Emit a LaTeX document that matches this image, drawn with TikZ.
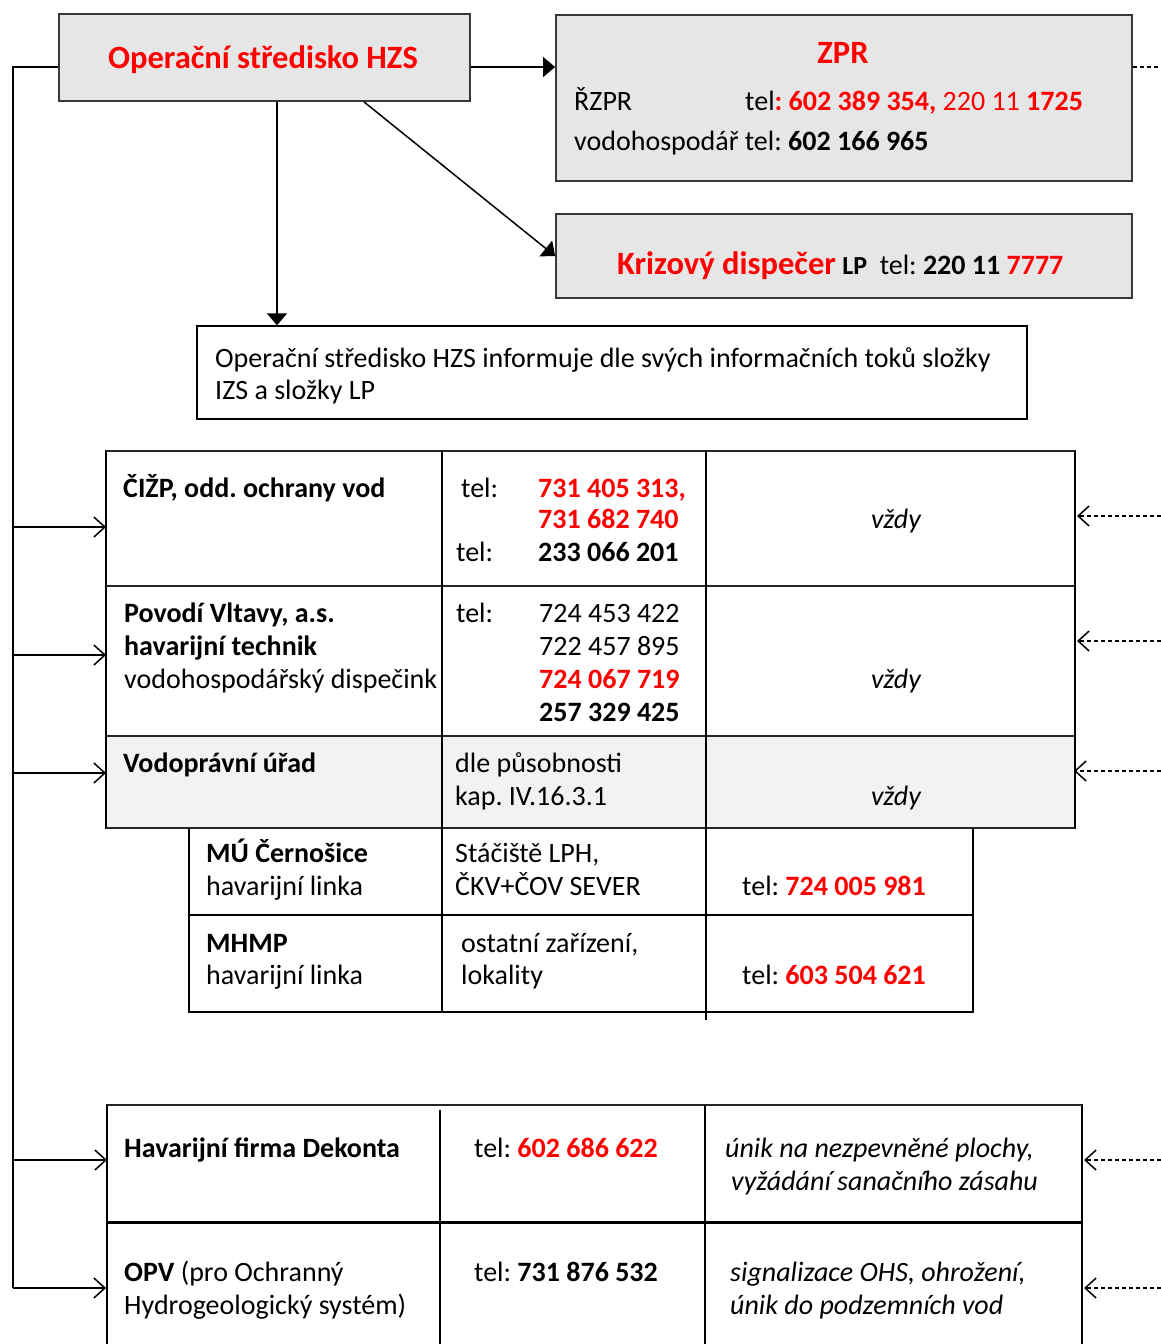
\documentclass[tikz,border=0pt]{standalone}
\usepackage{fontspec}
\setmainfont{Carlito}
\usetikzlibrary{arrows.meta}
\definecolor{wred}{RGB}{255,0,0}
\definecolor{boxgray}{RGB}{230,230,230}
\definecolor{rowgray}{RGB}{242,242,242}
\newcommand\redb[1]{\textcolor{wred}{\textbf{#1}}}
\newcommand\bigred[1]{{\bfseries\fontsize{32.5}{38}\selectfont\color{wred}#1}}
\begin{document}
\frenchspacing
\begin{tikzpicture}[x=1pt,y=-1pt,
  bx/.style={draw=black!78, line width=1.8pt, fill=boxgray, inner sep=0pt},
  ln/.style={draw=black, line width=1.4pt},
  thk/.style={draw=black!85, line width=2pt},
  arr/.style={line width=1.5pt, -{Triangle[length=12pt,width=20pt]}},
  side/.style={line width=1.4pt, -{Straight Barb[length=11pt,width=20pt,line width=1.5pt]}},
  back/.style={line width=1.3pt, dash pattern=on 4pt off 3pt, -{Straight Barb[length=11pt,width=20pt,line width=1.5pt]}},
  tx/.style={anchor=base west, inner sep=0pt, font=\fontsize{28}{33}\selectfont},
  tc/.style={anchor=base, inner sep=0pt, font=\fontsize{28}{33}\selectfont},
]
\useasboundingbox (0,0) rectangle (1161,1344);

% ---------- top boxes ----------
\node[bx, minimum width=411pt, minimum height=87pt] (hzs) at (264.5,57.5) {};
\node[bx, minimum width=576pt, minimum height=166pt] (zpr) at (844,98) {};
\node[bx, minimum width=576pt, minimum height=84pt] (kd) at (844,256) {};
\node[draw=black, line width=1.4pt, minimum width=830pt, minimum height=93pt, inner sep=0pt] (ib) at (612,372.5) {};

\node[tc, font=\bfseries\fontsize{32.5}{38}\selectfont, text=wred] (hzsT) at (263,68) {Operační středisko HZS};
\node[tc, font=\bfseries\fontsize{32.5}{38}\selectfont, text=wred] (zprT) at (843,63) {ZPR};
\node[tx] (rzpr) at (574,110) {ŘZPR};
\node[tx] (rzprtel) at (745,110) {tel\redb{: 602 389 354,} \textcolor{wred}{220 11} \redb{1725}};
\node[tx] (vh) at (574,150) {vodohospodář tel: \textbf{602 166 965}};
\node[tx] (kdT) at (617,274) {\bigred{Krizový dispečer} {\bfseries\fontsize{26}{30}\selectfont LP}\ \ tel: \textbf{220 11} \redb{7777}};

\node[tx] (ib1) at (215,367) {Operační středisko HZS informuje dle svých informačních toků složky};
\node[tx] (ib2) at (215,399) {IZS a složky LP};

% ---------- connectors from HZS ----------
\coordinate (y67) at (0,67);
\draw[arr] (hzs.east |- y67) -- (zpr.west |- y67);
\draw[arr] ([xshift=99.5pt]hzs.south) -- (kd.west);
\coordinate (vdown) at ([xshift=12.5pt]hzs.south);
\draw[arr] (vdown) -- (vdown |- ib.north);
\coordinate (zprR) at (1161,67);
\draw[line width=1.3pt, dash pattern=on 4pt off 3pt] (zpr.east |- y67) -- (zprR);

% ---------- table 1 ----------
\fill[rowgray] (106,736) rectangle (1075,828);
\draw[ln] (106,451) rectangle (1075,828);
\draw[thk] (106,451) -- (1075,451);
\draw[thk] (106,586) -- (1075,586);
\draw[thk] (106,736) -- (1075,736);
\draw[thk] (106,828) -- (1075,828);
\draw[ln] (442,451) -- (442,828);
\draw[ln] (706,451) -- (706,828);
% sub-table
\draw[ln] (189,828) -- (189,1012) -- (973,1012) -- (973,828);
\draw[ln] (189,915) -- (973,915);
\draw[ln] (442,828) -- (442,1012);
\draw[ln] (706,828) -- (706,1020);
% bottom table
\draw[ln] (107,1350) -- (107,1105) -- (1082,1105) -- (1082,1350);
\draw[thk] (107,1105) -- (1082,1105);
\draw[line width=3pt] (107,1222) -- (1082,1222);
\draw[ln] (440,1110) -- (440,1350);
\draw[ln] (705,1105) -- (705,1350);

% ---------- left trunk and branch arrows ----------
\coordinate (trk) at (13,67);
\coordinate (r1) at (106,527);
\coordinate (r2) at (106,655);
\coordinate (r3) at (106,773);
\coordinate (r4) at (107,1160);
\coordinate (r5) at (106,1288);
\draw[ln] (hzs.west |- trk) -- (trk) -- (trk |- r5);
\foreach \r in {r1,r2,r3,r4,r5} \draw[side] (trk |- \r) -- (\r);

% ---------- dashed arrows from the right ----------
\coordinate (d1) at (1077,516);
\coordinate (d2) at (1077,641);
\coordinate (d3) at (1074,771);
\coordinate (d4) at (1084,1160);
\coordinate (d5) at (1084,1288);
\coordinate (edge) at (1161,0);
\foreach \d in {d1,d2,d3,d4,d5} \draw[back] (edge |- \d) -- (\d);

% ---------- table 1 texts ----------
\node[tx] (c1a) at (123,497) {\textbf{ČIŽP, odd. ochrany vod}};
\node[tx] (c1b) at (461,497) {tel:};
\node[tx] (c1c) at (538,497) {\redb{731 405 313,}};
\node[tx] (c1d) at (538,528) {\redb{731 682 740}};
\node[tx] (c1e) at (456,561) {tel:};
\node[tx] (c1f) at (538,561) {\textbf{233 066 201}};
\node[tc] (c1g) at (896,528) {\itshape vždy};

\node[tx] (c2a) at (124,622) {\textbf{Povodí Vltavy, a.s.}};
\node[tx] (c2b) at (124,655) {\textbf{havarijní technik}};
\node[tx] (c2c) at (124,688) {vodohospodářský dispečink};
\node[tx] (c2d) at (456,622) {tel:};
\node[tx] (c2e) at (539,622) {724 453 422};
\node[tx] (c2f) at (539,655) {722 457 895};
\node[tx] (c2g) at (539,688) {\redb{724 067 719}};
\node[tx] (c2h) at (539,721) {\textbf{257 329 425}};
\node[tc] (c2i) at (896,688) {\itshape vždy};

\node[tx] (c3a) at (123,772) {\textbf{Vodoprávní úřad}};
\node[tx] (c3b) at (455,772) {dle působnosti};
\node[tx] (c3c) at (455,805) {kap. IV.16.3.1};
\node[tc] (c3d) at (896,805) {\itshape vždy};

\node[tx] (s1a) at (206,862) {\textbf{MÚ Černošice}};
\node[tx] (s1b) at (206,895) {havarijní linka};
\node[tx] (s1c) at (455,862) {Stáčiště LPH,};
\node[tx] (s1d) at (455,895) {ČKV+ČOV SEVER};
\node[tx] (s1e) at (742,895) {tel: \redb{724 005 981}};

\node[tx] (s2a) at (206,952) {\textbf{MHMP}};
\node[tx] (s2b) at (206,984) {havarijní linka};
\node[tx] (s2c) at (461,952) {ostatní zařízení,};
\node[tx] (s2d) at (461,984) {lokality};
\node[tx] (s2e) at (742,984) {tel: \redb{603 504 621}};

% ---------- bottom table texts ----------
\node[tx] (b1a) at (124,1157) {\textbf{Havarijní firma Dekonta}};
\node[tx] (b1b) at (474,1157) {tel: \redb{602 686 622}};
\node[tx] (b1c) at (725,1157) {\itshape únik na nezpevněné plochy,};
\node[tx] (b1d) at (731,1190) {\itshape vyžádání sanačního zásahu};

\node[tx] (b2a) at (124,1281) {\textbf{OPV} (pro Ochranný};
\node[tx] (b2b) at (124,1314) {Hydrogeologický systém)};
\node[tx] (b2c) at (474,1281) {tel: \textbf{731 876 532}};
\node[tx] (b2d) at (730,1281) {\itshape signalizace OHS, ohrožení,};
\node[tx] (b2e) at (730,1314) {\itshape únik do podzemních vod};
\end{tikzpicture}
\end{document}
